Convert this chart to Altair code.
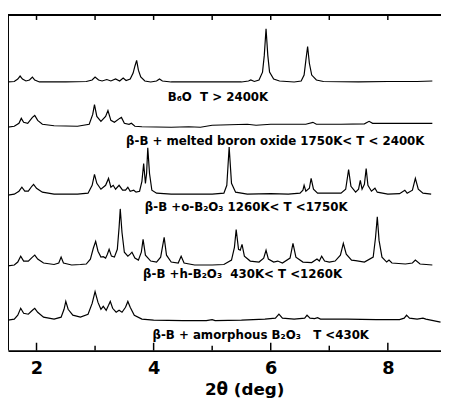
import altair as alt
import pandas as pd

# ---- data (2theta in deg, intensity in arbitrary units, stacked) ----
b6o_x = [1.51, 1.62, 1.68, 1.72, 1.76, 1.82, 1.88, 1.93, 1.97, 2.05, 2.5, 2.85, 2.95, 3.0, 3.06, 3.12, 3.2, 3.27,
         3.35, 3.42, 3.48, 3.53, 3.6, 3.65, 3.68, 3.71, 3.74, 3.78, 3.85, 3.95, 4.05, 4.1, 4.15, 4.3, 5.0, 5.5,
         5.62, 5.66, 5.72, 5.8, 5.86, 5.89, 5.92, 5.95, 5.98, 6.05, 6.15, 6.4, 6.52, 6.57, 6.6, 6.63, 6.66, 6.7,
         6.78, 6.9, 7.5, 8.0, 8.5, 8.76]
b6o_y = [273, 273.5, 276, 279, 276, 274, 275, 278, 275, 273, 273, 273.5, 275, 278, 275, 274, 275.5, 274,
         276, 274, 277, 274.5, 276, 282, 289, 295, 285, 278, 274, 273, 274, 276, 274, 273, 273, 273,
         274, 275, 273.5, 275, 283, 300, 327, 300, 283, 276, 274, 273, 274, 280, 295, 309, 292, 280,
         275, 273.5, 273, 273.5, 273.5, 274]

melt_x = [1.51, 1.62, 1.7, 1.74, 1.78, 1.85, 1.93, 1.97, 2.02, 2.1, 2.3, 2.7, 2.9, 2.96, 2.99, 3.03, 3.1, 3.18,
          3.22, 3.27, 3.33, 3.42, 3.45, 3.5, 3.58, 3.62, 3.68, 3.8, 4.3, 4.6, 4.8, 5.0, 5.3, 5.6, 5.75, 6.0,
          6.3, 6.6, 6.72, 6.78, 7.2, 7.6, 7.68, 7.74, 8.2, 8.76]
melt_y = [227, 228, 231, 236, 232, 231, 237, 239, 234, 230, 228.5, 228, 230, 240, 250, 238, 233, 238,
          244, 234, 232, 236, 237, 231, 230, 231, 228, 227.5, 227, 227.5, 227, 229, 229.5, 230, 229, 230,
          230, 230, 232, 230, 230, 230.5, 233, 231, 231, 231]

ob_x = [1.51, 1.62, 1.7, 1.75, 1.8, 1.86, 1.92, 1.95, 2.0, 2.1, 2.3, 2.7, 2.88, 2.95, 2.99, 3.03, 3.1, 3.18,
        3.23, 3.27, 3.31, 3.35, 3.41, 3.47, 3.52, 3.56, 3.6, 3.66, 3.7, 3.76, 3.8, 3.83, 3.86, 3.88, 3.9,
        3.93, 3.97, 4.05, 4.3, 5.0, 5.2, 5.25, 5.29, 5.33, 5.4, 5.6, 6.0, 6.3, 6.5, 6.55, 6.57, 6.6, 6.66,
        6.69, 6.73, 6.8, 7.0, 7.2, 7.28, 7.33, 7.37, 7.45, 7.5, 7.53, 7.56, 7.6, 7.63, 7.66, 7.72, 7.78,
        7.82, 8.0, 8.2, 8.29, 8.33, 8.42, 8.47, 8.52, 8.6, 8.74]
ob_y = [158, 159, 162, 166, 162, 162, 167, 169, 165, 161, 159, 159, 160, 168, 179, 170, 164, 168,
        175, 166, 168, 164, 168, 163, 163, 166, 162, 163, 161, 162, 172, 190, 170, 180, 206,
        180, 163, 160, 159, 159, 160, 168, 207, 170, 161, 159, 159.5, 159, 160, 163, 168, 162, 165,
        175, 164, 160, 160, 160, 164, 184, 167, 161, 164, 173, 164, 169, 185, 168, 162, 165,
        161, 159, 159.5, 163, 160, 163, 175, 164, 160, 159]

hb_x = [1.51, 1.62, 1.68, 1.73, 1.78, 1.86, 1.93, 1.97, 2.02, 2.12, 2.3, 2.38, 2.42, 2.46, 2.6, 2.75, 2.85,
        2.92, 2.97, 3.01, 3.05, 3.1, 3.14, 3.18, 3.21, 3.24, 3.28, 3.33, 3.38, 3.41, 3.43, 3.46, 3.5, 3.56,
        3.6, 3.63, 3.68, 3.74, 3.79, 3.82, 3.86, 3.95, 4.05, 4.12, 4.18, 4.22, 4.3, 4.42, 4.47, 4.52, 4.7,
        5.0, 5.2, 5.33, 5.38, 5.41, 5.45, 5.48, 5.51, 5.55, 5.65, 5.8, 5.88, 5.92, 5.96, 6.05, 6.12, 6.2,
        6.33, 6.38, 6.43, 6.55, 6.7, 6.79, 6.83, 6.87, 6.92, 7.0, 7.1, 7.19, 7.24, 7.29, 7.38, 7.45, 7.6,
        7.75, 7.79, 7.82, 7.85, 7.9, 7.98, 8.02, 8.07, 8.3, 8.42, 8.47, 8.55, 8.76]
hb_y = [86, 87, 90, 96, 91, 91, 95, 97, 93, 89, 87.5, 89, 95, 89, 87, 87.5, 88,
        93, 104, 111, 101, 95, 95.5, 94, 98, 103, 96, 95, 103, 125, 144, 120, 100, 96,
        98, 100, 94, 92, 100, 113, 97, 91, 90, 95, 115, 97, 90, 89, 96, 89, 87,
        87, 87.5, 92, 105, 123, 103, 102, 108, 96, 91, 90, 94, 102, 93, 90, 91, 89,
        94, 109, 95, 90, 89.5, 93, 91, 96, 91, 90, 91, 97, 109, 98, 92, 91.5, 90,
        95, 115, 136, 112, 95, 90, 92, 89, 88, 89, 92, 88, 87]

am_x = [1.51, 1.62, 1.68, 1.73, 1.78, 1.86, 1.93, 1.97, 2.02, 2.12, 2.3, 2.42, 2.47, 2.5, 2.54, 2.62, 2.75,
        2.88, 2.95, 3.0, 3.05, 3.1, 3.14, 3.19, 3.23, 3.26, 3.3, 3.36, 3.41, 3.46, 3.52, 3.56, 3.6, 3.67,
        3.8, 4.0, 4.5, 4.9, 5.0, 5.05, 5.5, 5.9, 6.08, 6.14, 6.2, 6.4, 6.58, 6.62, 6.67, 6.75, 6.8, 6.85,
        7.3, 7.8, 8.2, 8.28, 8.32, 8.37, 8.5, 8.6, 8.65, 8.9]
am_y = [31, 32, 36, 43, 38, 37, 41, 43, 39, 34, 32, 34, 42, 50, 42, 36, 34,
        37, 48, 60, 49, 42, 45, 41, 46, 50, 43, 39, 41, 39, 44, 50, 44, 36,
        32, 31, 30.5, 30.5, 31.5, 30.5, 31, 32, 33, 37, 33, 32, 33, 36, 33, 32.5, 33.5, 32,
        32, 31.5, 31.5, 33, 36, 33, 32, 33, 32, 29]

trace_names = ["B6O", "melted", "o-B2O3", "h-B2O3", "amorphous"]
trace_xs = [b6o_x, melt_x, ob_x, hb_x, am_x]
trace_ys = [b6o_y, melt_y, ob_y, hb_y, am_y]

NB = "\u00a0"
label_texts = ["B\u2086O" + NB + NB + "T > 2400K",
               "\u03b2-B + melted boron oxide 1750K< T < 2400K",
               "\u03b2-B +o-B\u2082O\u2083 1260K< T <1750K",
               "\u03b2-B +h-B\u2082O\u2083" + NB + NB + "430K< T <1260K",
               "\u03b2-B + amorphous B\u2082O\u2083" + NB + NB + NB + "T <430K"]
label_x = [4.24, 3.53, 3.85, 3.82, 3.98]
label_y = [258, 213, 146, 78, 16]

major_ticks = [2, 4, 6, 8]
minor_ticks = [3, 5, 7]
all_ticks = [2, 3, 4, 5, 6, 7, 8]

# ---- build tables ----
rows = []
for name, xs, ys in zip(trace_names, trace_xs, trace_ys):
    for i, (a, b) in enumerate(zip(xs, ys)):
        rows.append({"trace": name, "x": a, "y": b, "i": i})
df = pd.DataFrame(rows)
lab = pd.DataFrame({"x": label_x, "y": label_y, "t": label_texts})

W, H = 440, 341
FONT = "DejaVu Sans"
xscale = alt.Scale(domain=[1.513, 8.908], nice=False, zero=False)
yscale = alt.Scale(domain=[0, 341], nice=False, zero=False)

lines = alt.Chart(df).mark_line(color="black", strokeWidth=1.2).encode(
    x=alt.X("x:Q", scale=xscale,
            axis=alt.Axis(values=major_ticks, format="d", tickSize=0, labelFontSize=18, labelFont=FONT,
                          labelFontWeight="bold", labelColor="black", labelPadding=9,
                          domainColor="black", domainWidth=2, grid=False,
                          title="2\u03b8 (deg)", titleFont=FONT, titleFontSize=17,
                          titleFontWeight="bold", titleColor="black",
                          titleX=240, titleY=45, titleBaseline="alphabetic")),
    y=alt.Y("y:Q", scale=yscale, axis=None),
    detail="trace:N",
    order="i:Q",
)

labels = alt.Chart(lab).mark_text(align="left", baseline="middle", font=FONT,
                                  fontWeight="bold", fontSize=12, color="black").encode(
    x="x:Q", y="y:Q", text="t:N")

tick_major = alt.Chart(pd.DataFrame({"t": major_ticks})).mark_rule(color="black", strokeWidth=1.5).encode(
    x="t:Q", y=alt.value(H - 8), y2=alt.value(H))
tick_minor = alt.Chart(pd.DataFrame({"t": minor_ticks})).mark_rule(color="black", strokeWidth=1.5).encode(
    x="t:Q", y=alt.value(H - 5), y2=alt.value(H))
tick_top = alt.Chart(pd.DataFrame({"t": all_ticks})).mark_rule(color="black", strokeWidth=1.5).encode(
    x="t:Q", y=alt.value(0), y2=alt.value(5))

frame_top = alt.Chart(pd.DataFrame({"a": [0]})).mark_rule(color="black", strokeWidth=2).encode(
    x=alt.value(0), x2=alt.value(W), y=alt.value(0))
frame_left = alt.Chart(pd.DataFrame({"a": [0]})).mark_rule(color="black", strokeWidth=2).encode(
    x=alt.value(0), y=alt.value(0), y2=alt.value(H))

chart = alt.layer(lines, labels, tick_major, tick_minor, tick_top, frame_top, frame_left).properties(
    width=W, height=H,
    padding={"left": 0, "top": 4, "right": 0, "bottom": 46},
    autosize="none",
).configure_view(stroke=None)

chart.save("out.html", embed_options={"renderer": "svg", "actions": False})
